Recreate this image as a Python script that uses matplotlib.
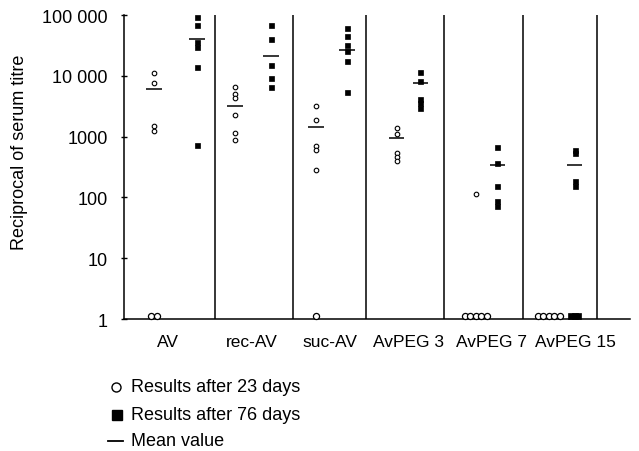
"""Serum titres after 23 and 76 days, per antigen preparation."""
import numpy as np
import matplotlib
matplotlib.use("Agg")
import matplotlib.pyplot as plt
from matplotlib.transforms import offset_copy

plt.rcParams['font.family'] = ['Liberation Sans', 'DejaVu Sans']

# data
groups = ["AV", "rec-AV", "suc-AV", "AvPEG 3", "AvPEG 7", "AvPEG 15"]
day23 = [
    [11000, 7500, 1500, 1250, 1, 1],
    [6470, 5000, 4260, 2270, 1130, 870],
    [3220, 1850, 710, 610, 285, 1],
    [1370, 1100, 540, 470, 400],
    [114, 1, 1, 1, 1, 1],
    [1, 1, 1, 1, 1],
]
day76 = [
    [91600, 68500, 36000, 29800, 14000, 730],
    [68500, 40300, 15000, 9200, 6600],
    [60400, 45700, 32000, 25500, 17700, 5350],
    [11700, 8300, 4150, 3530, 2950],
    [682, 364, 156, 88, 73],
    [600, 540, 186, 155, 1, 1, 1],
]
mean23 = [6000, 3200, 1420, 940, None, None]
mean76 = [40000, 21000, 26900, 7600, 341, 345]

yticks = [1, 10, 100, 1000, 10000, 100000]
ytick_labels = ["1", "10", "100", "1000", "10 000", "100 000"]

# layout (x in units of ~one group width)
separators = [1.17, 2.17, 3.11, 4.11, 5.12, 6.06]
group_left = [0] + separators[:-1]
col23 = [0.385, 0.256, 0.295, 0.385, 0.40, 0.33]
col76 = [0.936, 0.718, 0.692, 0.692, 0.68, 0.66]
label_x = [0.564, 1.641, 2.641, 3.654, 4.718, 5.795]


def spread(x0, values, step):
    """Put the points sitting at 1 side by side."""
    vals = np.asarray(values, dtype=float)
    xs = np.full(len(vals), x0)
    ones = np.where(vals == 1)[0]
    if len(ones):
        xs[ones] = x0 + (np.arange(len(ones)) - (len(ones) - 1) / 2) * step
    return xs, vals


fig = plt.figure(figsize=(6.39, 4.52), dpi=100)
ax = fig.add_axes([0.194, 0.292, 0.792, 0.6726])
lift = offset_copy(ax.transData, fig=fig, x=0, y=2.0, units='points')

for i in range(len(groups)):
    x23 = group_left[i] + col23[i]
    x76 = group_left[i] + col76[i]

    xs, vals = spread(x23, day23[i], 0.07)
    big = vals == 1
    ax.plot(xs[~big], vals[~big], 'o', ms=3.3, mfc='white', mec='black',
            mew=0.8, clip_on=False, zorder=3)
    ax.plot(xs[big], vals[big], 'o', ms=4.4, mfc='white', mec='black',
            mew=0.9, clip_on=False, zorder=3, transform=lift)

    xs, vals = spread(x76, day76[i], 0.045)
    big = vals == 1
    ax.plot(xs[~big], vals[~big], 's', ms=3.6, mfc='black', mec='black',
            mew=0.5, clip_on=False, zorder=3)
    ax.plot(xs[big], vals[big], 's', ms=3.8, mfc='black', mec='black',
            mew=0.5, clip_on=False, zorder=3, transform=lift)

    if mean23[i] is not None:
        ax.hlines(mean23[i], x23 - 0.1, x23 + 0.1, color='black', lw=1.1)
    if mean76[i] is not None:
        ax.hlines(mean76[i], x76 - 0.1, x76 + 0.1, color='black', lw=1.1)

for s in separators:
    ax.axvline(s, color='black', lw=1.1)

ax.set_yscale('log')
ax.set_ylim(1, 100000)
ax.set_xlim(0, 6.49)
ax.set_yticks(yticks)
ax.set_yticklabels(ytick_labels)
ax.yaxis.set_minor_locator(matplotlib.ticker.NullLocator())
ax.tick_params(axis='y', direction='inout', length=4, width=1, pad=9.5,
               labelsize=13)
ax.set_xticks(label_x)
ax.set_xticklabels(groups)
ax.tick_params(axis='x', length=0, pad=11, labelsize=12.5)

for side in ['top', 'right']:
    ax.spines[side].set_visible(False)
for side in ['left', 'bottom']:
    ax.spines[side].set_linewidth(1.1)

ax.set_ylabel("Reciprocal of serum titre", fontsize=13)
ax.yaxis.set_label_coords(-0.19, 0.553)

# legend, drawn by hand below the axes
W, H = 639.0, 452.0
rows = [388, 416, 442]
fig.lines.append(plt.Line2D([116 / W], [1 - rows[0] / H], marker='o', ms=6.5,
                            mfc='white', mec='black', mew=1.0,
                            transform=fig.transFigure))
fig.lines.append(plt.Line2D([117 / W], [1 - rows[1] / H], marker='s', ms=6.5,
                            mfc='black', mec='black',
                            transform=fig.transFigure))
fig.lines.append(plt.Line2D([108 / W, 123 / W], [1 - rows[2] / H] * 2,
                            color='black', lw=1.3, transform=fig.transFigure))
legend_texts = ["Results after 23 days", "Results after 76 days", "Mean value"]
for r, t in zip(rows, legend_texts):
    fig.text(131 / W, 1 - r / H, t, fontsize=13, ha='left', va='center')

fig.savefig("out.png", dpi=100, facecolor='white')
plt.close(fig)
